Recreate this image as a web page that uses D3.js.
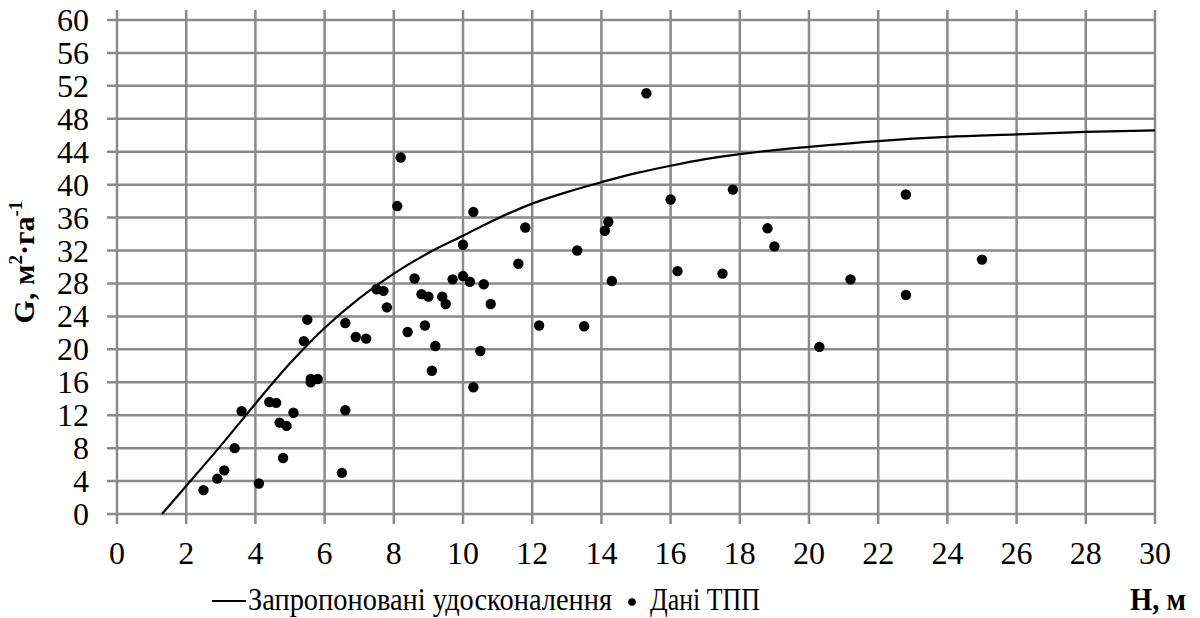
<!doctype html>
<html>
  <head>
    <meta charset="utf-8">
    <title>G vs H</title>
    <script src="https://d3js.org/d3.v7.min.js"></script>
    <style>
      body { margin: 0; background: #fff; }
    </style>
  </head>
  <body>
    <div id="root"></div>
  <script>

    // curve "Запропоновані удосконалення"
    const curveH = [1.3, 2, 3, 4, 5, 6, 7, 8, 9, 10, 11, 12, 13, 14, 15, 16, 17, 18, 19, 20, 22, 24, 26, 28, 30];
    const curveG = [0, 3.4, 8.3, 13.4, 18.3, 22.6, 26.2, 29.2, 31.7, 33.8, 35.9, 37.7, 39.1, 40.3, 41.4, 42.3, 43.1, 43.7, 44.2, 44.6, 45.3, 45.8, 46.1, 46.4, 46.6];

    // points "Дані ТПП"
    const pointH = [2.5, 2.9, 3.1, 3.4, 3.6, 4.1, 4.4, 4.6, 5.1, 4.7, 4.9, 4.8, 5.4, 5.5, 5.6, 5.6, 5.8,
                    6.5, 6.6, 6.6, 6.9, 7.2, 7.5, 7.7, 7.8, 8.2, 8.1, 8.6, 8.8, 9.0, 9.4, 9.5, 8.4, 8.9, 9.2, 9.1,
                    9.7, 10.0, 10.0, 10.2, 10.6, 10.8, 10.3, 11.8, 11.6, 10.5, 10.3, 12.2, 13.3, 13.5,
                    14.1, 14.2, 14.3, 15.3, 16.0, 16.2, 17.5, 17.8, 18.8, 19.0, 20.3, 21.2, 22.8, 22.8, 25.0];
    const pointG = [2.9, 4.3, 5.3, 8.0, 12.5, 3.7, 13.6, 13.5, 12.3, 11.1, 10.7, 6.8, 21.0, 23.6, 16.0, 16.4, 16.4,
                    5.0, 23.2, 12.6, 21.5, 21.3, 27.3, 27.1, 25.1, 43.3, 37.4, 28.6, 26.7, 26.4, 26.4, 25.5, 22.1, 22.9, 20.4, 17.4,
                    28.5, 28.9, 32.7, 28.2, 27.9, 25.5, 36.7, 34.8, 30.4, 19.8, 15.4, 22.9, 32.0, 22.8,
                    34.4, 35.5, 28.3, 51.1, 38.2, 29.5, 29.2, 39.4, 34.7, 32.5, 20.3, 28.5, 38.8, 26.6, 30.9];

    const xTicks = d3.range(0, 31, 2);
    const yTicks = d3.range(0, 61, 4);

    const width = 1200, height = 618;
    const margin = {top: 20, right: 45, bottom: 104, left: 117};
    const gridColor = "#8a8a8a";
    const serif = '"Liberation Serif"';

    const svg = d3.select("#root").append("svg")
      .attr("width", width)
      .attr("height", height);

    const x = d3.scaleLinear().domain([0, 30]).range([margin.left, width - margin.right]);
    const y = d3.scaleLinear().domain([0, 60]).range([height - margin.bottom, margin.top]);

    //grid
    svg.append("g").selectAll("line")
      .data(xTicks)
      .enter().append("line")
      .attr("x1", d => x(d)).attr("x2", d => x(d))
      .attr("y1", margin.top - 10).attr("y2", y(0) + 10)
      .attr("stroke", gridColor).attr("stroke-width", 2.5);

    svg.append("g").selectAll("line")
      .data(yTicks)
      .enter().append("line")
      .attr("x1", x(0) - 10).attr("x2", x(30))
      .attr("y1", d => y(d)).attr("y2", d => y(d))
      .attr("stroke", gridColor).attr("stroke-width", 2.5);

    //tick labels
    svg.append("g").selectAll("text")
      .data(yTicks)
      .enter().append("text")
      .style("font-family", serif)
      .attr("x", 89)
      .attr("y", d => y(d) + 11)
      .attr("text-anchor", "end")
      .attr("font-size", "32px")
      .text(d => d);

    svg.append("g").selectAll("text")
      .data(xTicks)
      .enter().append("text")
      .style("font-family", serif)
      .attr("x", d => x(d))
      .attr("y", 564)
      .attr("text-anchor", "middle")
      .attr("font-size", "32px")
      .text(d => d);

    //curve
    const curveData = curveH.map((h, i) => [h, curveG[i]]);
    svg.append("path")
      .datum(curveData)
      .attr("fill", "none")
      .attr("stroke", "#000")
      .attr("stroke-width", 2.2)
      .attr("d", d3.line().x(d => x(d[0])).y(d => y(d[1])).curve(d3.curveMonotoneX));

    //points
    svg.append("g").selectAll("circle")
      .data(pointH.map((h, i) => [h, pointG[i]]))
      .enter().append("circle")
      .attr("cx", d => x(d[0]))
      .attr("cy", d => y(d[1]))
      .attr("r", 5.2)
      .attr("fill", "#000");

    //axis titles
    const yt = svg.append("text")
      .style("font-family", serif)
      .attr("transform", "translate(34, 262) rotate(-90)")
      .attr("text-anchor", "middle")
      .attr("font-size", "30px")
      .attr("font-weight", "bold");
    yt.append("tspan").text("G, м");
    yt.append("tspan").attr("dy", -12).attr("font-size", "19px").text("2");
    yt.append("tspan").attr("dy", 12).text("·га");
    yt.append("tspan").attr("dy", -12).attr("font-size", "19px").text("-1");

    svg.append("text")
      .style("font-family", serif)
      .attr("x", 1130).attr("y", 610)
      .attr("font-size", "31px")
      .attr("font-weight", "bold")
      .attr("textLength", 56)
      .attr("lengthAdjust", "spacingAndGlyphs")
      .text("H, м");

    //legend
    svg.append("line")
      .attr("x1", 212).attr("x2", 246)
      .attr("y1", 601).attr("y2", 601)
      .attr("stroke", "#000").attr("stroke-width", 2);
    svg.append("text")
      .style("font-family", serif)
      .attr("x", 248).attr("y", 610)
      .attr("font-size", "31px")
      .attr("textLength", 364)
      .attr("lengthAdjust", "spacingAndGlyphs")
      .text("Запропоновані удосконалення");
    svg.append("circle")
      .attr("cx", 632).attr("cy", 602).attr("r", 3.8)
      .attr("fill", "#000");
    svg.append("text")
      .style("font-family", serif)
      .attr("x", 650).attr("y", 610)
      .attr("font-size", "31px")
      .attr("textLength", 110)
      .attr("lengthAdjust", "spacingAndGlyphs")
      .text("Дані ТПП");

  </script>
  </body>
</html>
